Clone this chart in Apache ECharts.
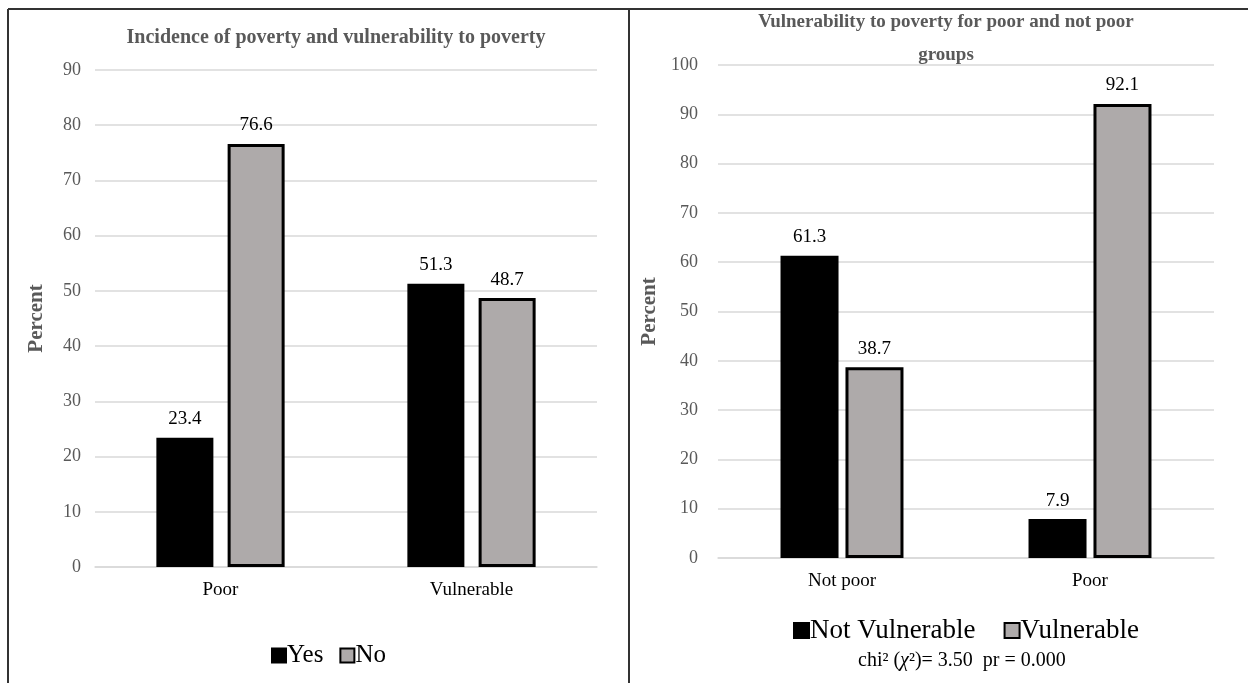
<!DOCTYPE html>
<html>
<head>
<meta charset="utf-8">
<script src="https://cdn.jsdelivr.net/npm/echarts@6/dist/echarts.min.js"></script>
<style>
html,body{margin:0;padding:0;background:#fff;}
#c{width:1248px;height:683px;}
</style>
</head>
<body>
<div id="c"></div>
<script>
// Left chart data
const leftCategories = ['Poor', 'Vulnerable'];
const leftYes = [23.4, 51.3];
const leftNo = [76.6, 48.7];
const leftTicks = [0, 10, 20, 30, 40, 50, 60, 70, 80, 90];

// Right chart data
const rightCategories = ['Not poor', 'Poor'];
const rightNotVulnerable = [61.3, 7.9];
const rightVulnerable = [38.7, 92.1];
const rightTicks = [0, 10, 20, 30, 40, 50, 60, 70, 80, 90, 100];

const SERIF = '"Liberation Serif", "Times New Roman", serif';
const GRID_COLOR = '#d9d9d9';
const AXIS_TEXT = '#595959';
const BLACK = '#000000';
const GREY = '#aeaaaa';

const chart = echarts.init(document.getElementById('c'), null, {renderer: 'canvas'});

function yAxis(gridIndex, ticks, nameGap, margin) {
  return {
    gridIndex: gridIndex,
    type: 'value',
    min: ticks[0],
    max: ticks[ticks.length - 1],
    interval: ticks[1] - ticks[0],
    name: 'Percent',
    nameLocation: 'middle',
    nameGap: nameGap,
    nameTextStyle: {fontFamily: SERIF, fontSize: 21, fontWeight: 'bold', color: AXIS_TEXT},
    axisLine: {show: false},
    axisTick: {show: false},
    axisLabel: {fontFamily: SERIF, fontSize: 18, color: AXIS_TEXT, margin: margin},
    splitLine: {lineStyle: {color: GRID_COLOR, width: 1.5}}
  };
}

function xAxis(gridIndex, cats) {
  return {
    gridIndex: gridIndex,
    type: 'category',
    data: cats,
    axisLine: {lineStyle: {color: GRID_COLOR, width: 1.5}},
    axisTick: {show: false},
    axisLabel: {fontFamily: SERIF, fontSize: 19, color: '#000', margin: 14}
  };
}

const labelStyle = {show: true, position: 'top', distance: 9, fontFamily: SERIF, fontSize: 19, color: '#000'};

const option = {
  animation: false,
  backgroundColor: '#fff',
  title: [
    {
      text: 'Incidence of poverty and vulnerability to poverty',
      left: 331, top: 23, textAlign: 'center',
      textStyle: {fontFamily: SERIF, fontSize: 20, fontWeight: 'bold', color: AXIS_TEXT}
    },
    {
      text: 'Vulnerability to poverty for poor and not poor\ngroups',
      left: 941, top: 1, textAlign: 'center',
      textStyle: {fontFamily: SERIF, fontSize: 19, fontWeight: 'bold', color: AXIS_TEXT, lineHeight: 33}
    }
  ],
  legend: [
    {
      data: ['Yes', 'No'],
      left: 266, top: 638,
      icon: 'rect',
      itemWidth: 14, itemHeight: 14, itemGap: 16,
      textStyle: {fontFamily: SERIF, fontSize: 25, color: '#000', padding: [0, 0, 0, -4]},
    },
    {
      data: ['Not Vulnerable', 'Vulnerable'],
      left: 788, top: 612,
      icon: 'rect',
      itemWidth: 15, itemHeight: 15, itemGap: 28,
      textStyle: {fontFamily: SERIF, fontSize: 27, color: '#000', padding: [0, 0, 0, -4]},
    }
  ],
  grid: [
    {left: 95, right: 651, top: 70, bottom: 116},
    {left: 718, right: 34, top: 65, bottom: 125}
  ],
  xAxis: [xAxis(0, leftCategories), xAxis(1, rightCategories)],
  yAxis: [yAxis(0, leftTicks, 48, 14), yAxis(1, rightTicks, 58, 20)],
  series: [
    {
      name: 'Yes', type: 'bar', xAxisIndex: 0, yAxisIndex: 0, data: leftYes,
      barWidth: 57, barGap: '25%',
      itemStyle: {color: BLACK, borderColor: BLACK, borderWidth: 2},
      label: labelStyle
    },
    {
      name: 'No', type: 'bar', xAxisIndex: 0, yAxisIndex: 0, data: leftNo,
      barWidth: 57, barGap: '25%',
      itemStyle: {color: GREY, borderColor: BLACK, borderWidth: 3},
      label: labelStyle
    },
    {
      name: 'Not Vulnerable', type: 'bar', xAxisIndex: 1, yAxisIndex: 1, data: rightNotVulnerable,
      barWidth: 58, barGap: '12%',
      itemStyle: {color: BLACK, borderColor: BLACK, borderWidth: 2},
      label: labelStyle
    },
    {
      name: 'Vulnerable', type: 'bar', xAxisIndex: 1, yAxisIndex: 1, data: rightVulnerable,
      barWidth: 58, barGap: '12%',
      itemStyle: {color: GREY, borderColor: BLACK, borderWidth: 3},
      label: labelStyle
    }
  ],
  graphic: [
    {type: 'line', shape: {x1: 8, y1: 9, x2: 1248, y2: 9}, style: {stroke: '#333', lineWidth: 2}},
    {type: 'line', shape: {x1: 8, y1: 9, x2: 8, y2: 683}, style: {stroke: '#333', lineWidth: 2}},
    {type: 'line', shape: {x1: 629, y1: 9, x2: 629, y2: 683}, style: {stroke: '#333', lineWidth: 2}},
    {
      type: 'text', left: 858, top: 651,
      style: {
        text: 'chi² ({i|χ}²)= 3.50  pr = 0.000',
        font: '20px ' + SERIF,
        fill: '#000',
        rich: {i: {fontFamily: SERIF, fontSize: 20, fontStyle: 'italic', fill: '#000'}}
      }
    }
  ]
};
chart.setOption(option);
</script>
</body>
</html>
